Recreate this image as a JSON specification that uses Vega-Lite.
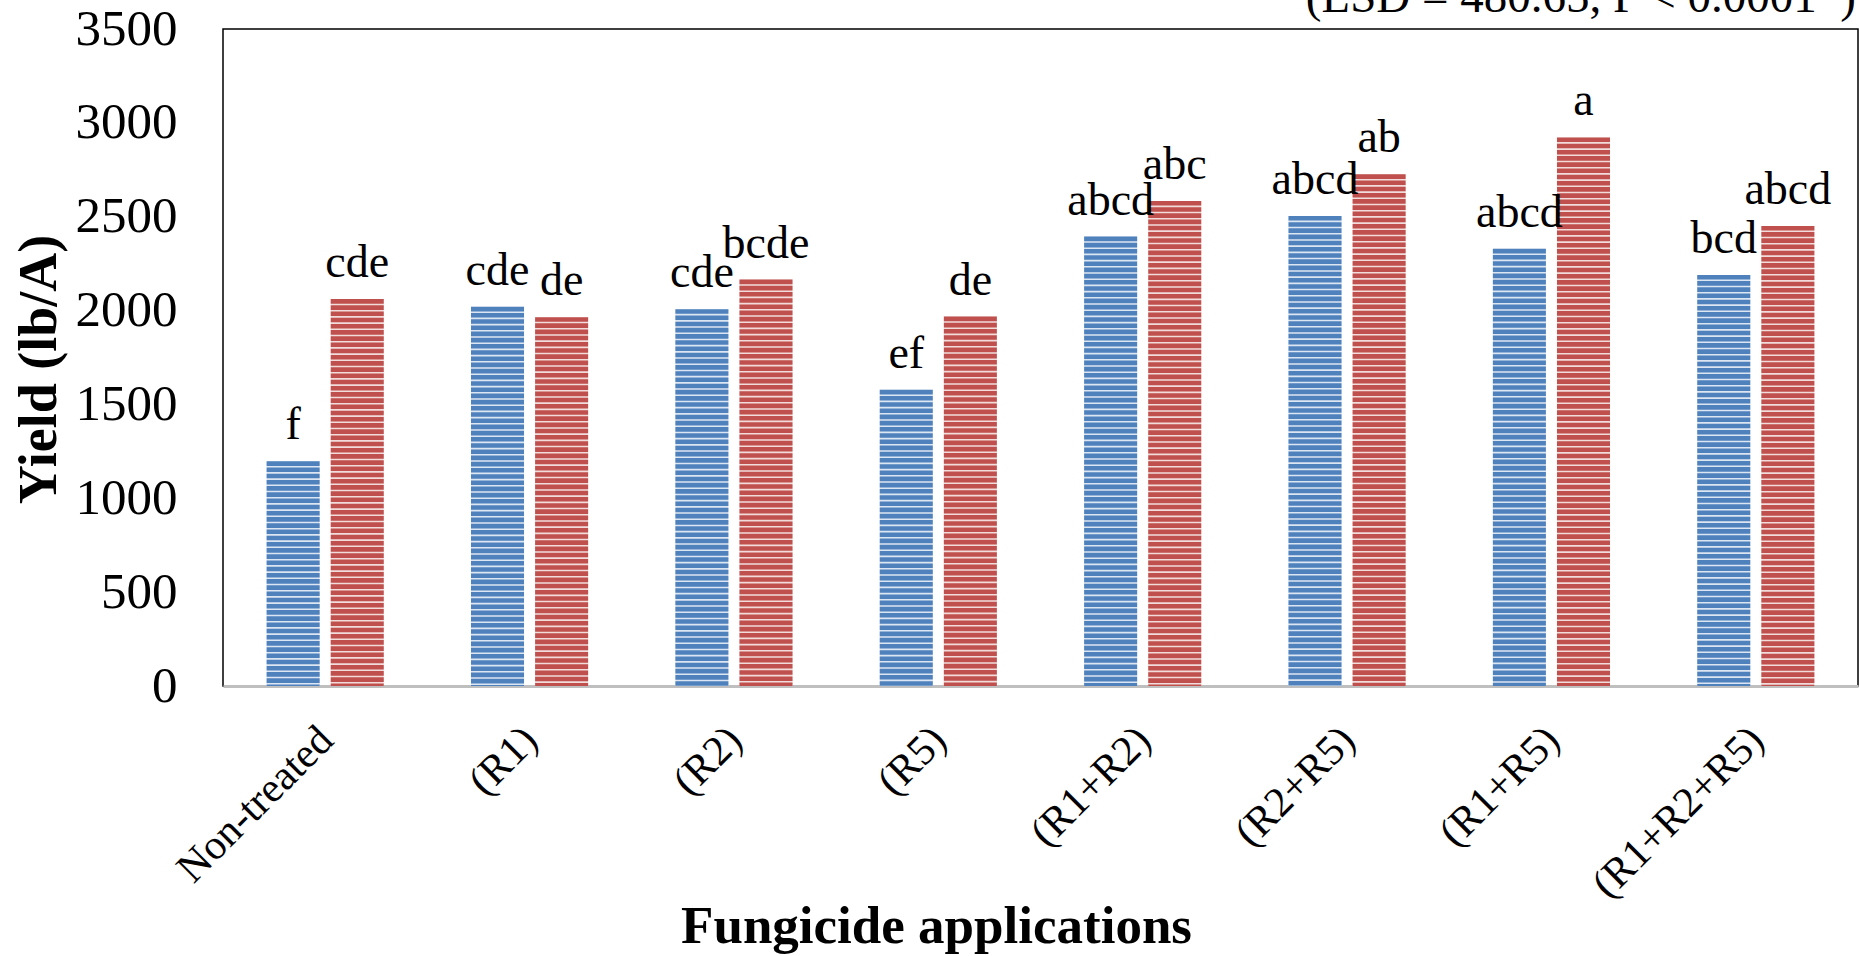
{
  "$schema": "https://vega.github.io/schema/vega-lite/v6.json",
  "autosize": {"type": "none"},
  "padding": {"left": 223, "top": 29, "right": 1, "bottom": 270},
  "width": 1635,
  "height": 657,
  "background": "white",
  "config": {
    "view": {"stroke": "black", "strokeWidth": 1.5},
    "font": "Liberation Serif"
  },
  "layer": [
    {
      "data": {
        "values": [
          {"treatment": "Non-treated", "series": "Trial 1", "yield": 1197, "letters": "f"},
          {"treatment": "Non-treated", "series": "Trial 2", "yield": 2061, "letters": "cde"},
          {"treatment": "(R1)", "series": "Trial 1", "yield": 2020, "letters": "cde"},
          {"treatment": "(R1)", "series": "Trial 2", "yield": 1965, "letters": "de"},
          {"treatment": "(R2)", "series": "Trial 1", "yield": 2007, "letters": "cde"},
          {"treatment": "(R2)", "series": "Trial 2", "yield": 2165, "letters": "bcde"},
          {"treatment": "(R5)", "series": "Trial 1", "yield": 1578, "letters": "ef"},
          {"treatment": "(R5)", "series": "Trial 2", "yield": 1968, "letters": "de"},
          {"treatment": "(R1+R2)", "series": "Trial 1", "yield": 2394, "letters": "abcd"},
          {"treatment": "(R1+R2)", "series": "Trial 2", "yield": 2584, "letters": "abc"},
          {"treatment": "(R2+R5)", "series": "Trial 1", "yield": 2504, "letters": "abcd"},
          {"treatment": "(R2+R5)", "series": "Trial 2", "yield": 2726, "letters": "ab"},
          {"treatment": "(R1+R5)", "series": "Trial 1", "yield": 2329, "letters": "abcd"},
          {"treatment": "(R1+R5)", "series": "Trial 2", "yield": 2922, "letters": "a"},
          {"treatment": "(R1+R2+R5)", "series": "Trial 1", "yield": 2190, "letters": "bcd"},
          {"treatment": "(R1+R2+R5)", "series": "Trial 2", "yield": 2451, "letters": "abcd"}
        ]
      },
      "encoding": {
        "x": {
          "field": "treatment",
          "type": "nominal",
          "sort": null,
          "scale": {"paddingInner": 0.426, "paddingOuter": 0.213},
          "axis": {
            "title": "Fungicide applications",
            "titleFont": "Liberation Serif",
            "titleFontSize": 53,
            "titleFontWeight": "bold",
            "titleColor": "black",
            "titleX": 713,
            "titleY": 256,
            "titleBaseline": "alphabetic",
            "titleAlign": "center",
            "labelAngle": -45,
            "labelAlign": "right",
            "labelBaseline": "middle",
            "labelFont": "Liberation Serif",
            "labelFontSize": 42,
            "labelColor": "black",
            "labelPadding": 47,
            "labelOffset": 1,
            "labelLimit": 0,
            "ticks": false,
            "domainColor": "#bfbfbf",
            "domainWidth": 3,
            "grid": false
          }
        },
        "xOffset": {
          "field": "series",
          "type": "nominal",
          "scale": {"paddingInner": 0.17, "paddingOuter": 0}
        },
        "y": {
          "field": "yield",
          "type": "quantitative",
          "scale": {"domain": [0, 3500], "nice": false},
          "axis": {
            "title": "Yield (lb/A)",
            "titleFont": "Liberation Serif",
            "titleFontSize": 54,
            "titleFontWeight": "bold",
            "titleColor": "black",
            "titleX": -184,
            "titleY": 340,
            "titleAngle": 270,
            "titleAlign": "center",
            "titleBaseline": "middle",
            "values": [0, 500, 1000, 1500, 2000, 2500, 3000, 3500],
            "format": "d",
            "labelFont": "Liberation Serif",
            "labelFontSize": 51,
            "labelColor": "black",
            "labelPadding": 46,
            "ticks": false,
            "domain": false,
            "grid": false
          }
        }
      },
      "layer": [
        {
          "mark": {"type": "bar"},
          "encoding": {
            "color": {
              "field": "series",
              "type": "nominal",
              "scale": {"range": ["#dce6f2", "#f2dcdb"]},
              "legend": null
            }
          }
        },
        {
          "mark": {"type": "rule", "strokeWidth": 53, "strokeDash": [4.6, 1.6], "strokeCap": "butt"},
          "encoding": {
            "y2": {"datum": 0},
            "color": {
              "field": "series",
              "type": "nominal",
              "scale": {"range": ["#4f81bd", "#c0504d"]},
              "legend": null
            }
          }
        },
        {
          "mark": {"type": "text", "baseline": "alphabetic", "dy": -22, "fontSize": 46, "font": "Liberation Serif", "color": "black"},
          "encoding": {
            "text": {"field": "letters"}
          }
        }
      ],
      "resolve": {"scale": {"color": "independent"}}
    },
    {
      "data": {"values": [{"note": "(LSD = 480.65, P < 0.0001*)"}]},
      "mark": {"type": "text", "align": "right", "baseline": "alphabetic", "dx": 68, "dy": -17, "fontSize": 47, "font": "Liberation Serif", "color": "black"},
      "encoding": {
        "x": {"datum": "(R1+R2+R5)", "type": "nominal"},
        "xOffset": {"datum": "Trial 2", "type": "nominal"},
        "y": {"datum": 3500, "type": "quantitative"},
        "text": {"field": "note"}
      }
    }
  ],
  "resolve": {"scale": {"color": "independent"}}
}
